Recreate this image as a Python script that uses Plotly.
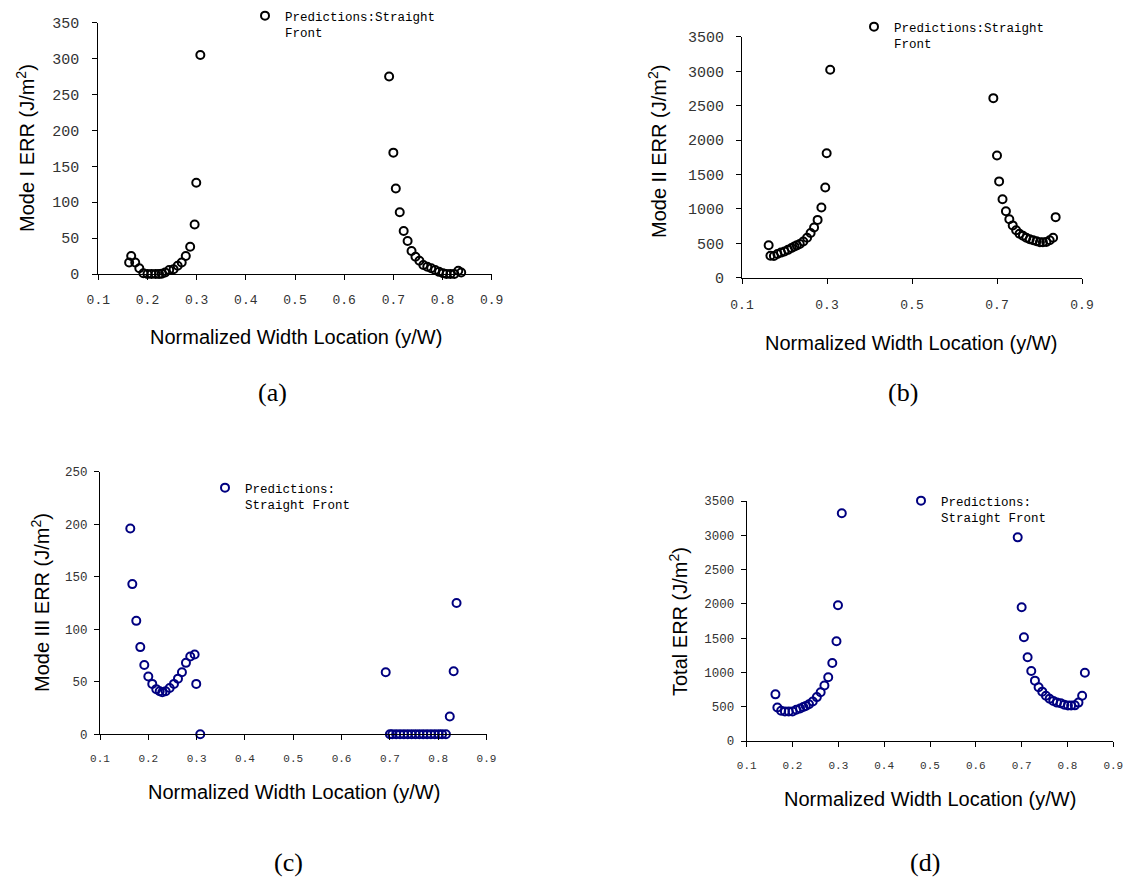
import plotly.graph_objects as go

# ---------------- data ----------------
x_left = [0.1627, 0.1669, 0.1751, 0.1834, 0.1917, 0.2000, 0.2082, 0.2165, 0.2235, 0.2290,
          0.2359, 0.2442, 0.2531, 0.2614, 0.2696, 0.2779, 0.2868, 0.2959, 0.2992, 0.3075]
x_right = [0.6914, 0.7000, 0.7050, 0.7130, 0.7210, 0.7290, 0.7370, 0.7450, 0.7530, 0.7610,
           0.7690, 0.7770, 0.7850, 0.7930, 0.8010, 0.8080, 0.8160, 0.8240, 0.8320, 0.8380]
x_all = x_left + x_right

mode1 = [16, 25, 16, 8, 1, 0, 0, 0, 0, 0.5,
         2, 5.5, 6.5, 11.5, 16, 25, 38, 69, 127, 305,
         275, 169, 119, 86, 60, 46, 32, 24, 18.5, 12.5,
         10, 8, 5.5, 3, 1, 0, 0, 0, 4.5, 2]
mode2 = [471, 320, 315, 344, 365, 380, 405, 432, 455, 470,
         490, 525, 580, 650, 730, 840, 1020, 1310, 1808, 3023,
         2610, 1775, 1400, 1140, 965, 850, 760, 690, 640, 610,
         580, 560, 545, 530, 515, 515, 520, 545, 580, 880]
mode3 = [196, 143, 108, 83, 66, 55, 48, 43, 41, 40,
         41, 44, 48, 53, 59, 68, 74, 76, 48, 0,
         59, 0, 0, 0, 0, 0, 0, 0, 0, 0,
         0, 0, 0, 0, 0, 0, 0, 17, 60, 125]
total = [680, 488, 440, 430, 430, 432, 455, 475, 495, 510,
         535, 575, 640, 710, 810, 930, 1137, 1454, 1979, 3321,
         2970, 1950, 1512, 1221, 1020, 880, 785, 720, 660, 615,
         585, 560, 552, 528, 518, 518, 520, 560, 660, 995]

series_name_ab = "Predictions:Straight<br>Front"
series_name_cd = "Predictions:<br>Straight Front"
y_titles = ["Mode I ERR (J/m<sup>2</sup>)", "Mode II ERR (J/m<sup>2</sup>)",
            "Mode III ERR (J/m<sup>2</sup>)", "Total ERR (J/m<sup>2</sup>)"]
x_title = "Normalized Width Location (y/W)"
panel_labels = ["(a)", "(b)", "(c)", "(d)"]

W, H = 1123, 878
def px(v):
    return v / W
def py(v):
    return 1 - v / H

BLACK = "#000000"
NAVY = "#000080"
MONO = "Liberation Mono"

fig = go.Figure()

panels = [
    dict(y=mode1, color=BLACK, name=series_name_ab, xdom=(98.3, 491.7), ydom=(274, 22.7),
         yrange=[0, 350], dy=50, dx=0.1, yfs=15, xfs=13, ystand=10, xstand=8,
         leg=(245, 1), xt=(295.5, 337), yt=(25, 148), pl=(272, 393)),
    dict(y=mode2, color=BLACK, name=series_name_ab, xdom=(742, 1082), ydom=(277.7, 36.9),
         yrange=[0, 3500], dy=500, dx=0.2, yfs=15, xfs=13, ystand=9, xstand=10,
         leg=(854, 12), xt=(911, 343), yt=(657, 152), pl=(903, 392)),
    dict(y=mode3, color=NAVY, name=series_name_cd, xdom=(100, 486.5), ydom=(734.3, 471.7),
         yrange=[0, 250], dy=50, dx=0.1, yfs=12.5, xfs=11, ystand=4, xstand=8,
         leg=(205, 473), xt=(293.7, 792), yt=(40, 603), pl=(288, 862)),
    dict(y=total, color=NAVY, name=series_name_cd, xdom=(746.7, 1113.3), ydom=(741, 501),
         yrange=[0, 3500], dy=500, dx=0.1, yfs=12.5, xfs=11, ystand=4, xstand=9,
         leg=(901, 486), xt=(930, 799), yt=(678, 622), pl=(925, 862)),
]

for i, p in enumerate(panels, start=1):
    sfx = "" if i == 1 else str(i)
    leg = "legend" if i == 1 else f"legend{i}"
    fig.add_trace(go.Scatter(
        x=x_all, y=p["y"], mode="markers", name=p["name"],
        xaxis="x" + sfx, yaxis="y" + sfx, legend=leg, cliponaxis=False,
        marker=dict(symbol="circle-open", size=8, color=p["color"],
                    line=dict(width=2, color=p["color"])),
        showlegend=True,
    ))
    axis_common = dict(showline=True, linecolor="#000000", linewidth=1, ticks="outside",
                       ticklen=5, tickcolor="#000000", showgrid=False, zeroline=False,
                       automargin=False, ticklabeloverflow="allow")
    fig.update_layout(**{
        "xaxis" + sfx: dict(axis_common, domain=[px(p["xdom"][0]), px(p["xdom"][1])],
                            range=[0.1, 0.9], tick0=0.1, dtick=p["dx"], tickformat=".1f",
                            anchor="y" + sfx, ticklabelstandoff=p["xstand"],
                            tickfont=dict(family=MONO, color="#333333", size=p["xfs"])),
        "yaxis" + sfx: dict(axis_common, domain=[py(p["ydom"][0]), py(p["ydom"][1])],
                            range=p["yrange"], tick0=0, dtick=p["dy"],
                            anchor="x" + sfx, ticklabelstandoff=p["ystand"],
                            tickfont=dict(family=MONO, color="#333333", size=p["yfs"])),
        leg: dict(x=px(p["leg"][0]), y=py(p["leg"][1]), xanchor="left", yanchor="top",
                  valign="top", bgcolor="rgba(0,0,0,0)", itemwidth=30,
                  font=dict(family=MONO, size=12.5, color="#000000")),
    })
    fig.add_annotation(x=px(p["xt"][0]), y=py(p["xt"][1]), xref="paper", yref="paper",
                       text=x_title, showarrow=False, xanchor="center", yanchor="middle",
                       font=dict(family="Liberation Sans", size=20, color="#000000"))
    fig.add_annotation(x=px(p["yt"][0]), y=py(p["yt"][1]), xref="paper", yref="paper",
                       text=y_titles[i - 1], showarrow=False, textangle=-90,
                       xanchor="center", yanchor="middle",
                       font=dict(family="Liberation Sans", size=20, color="#000000"))
    fig.add_annotation(x=px(p["pl"][0]), y=py(p["pl"][1]), xref="paper", yref="paper",
                       text=panel_labels[i - 1], showarrow=False, xanchor="center",
                       yanchor="middle",
                       font=dict(family="Liberation Serif", size=26, color="#000000"))

fig.update_layout(width=W, height=H,
                  margin=dict(l=0, r=0, t=0, b=0, pad=0, autoexpand=False),
                  paper_bgcolor="white", plot_bgcolor="white", showlegend=True)

fig.write_html("out.html",
               config={"displayModeBar": False},
               post_script="document.body.style.margin='0';"
                           "document.body.style.overflow='hidden';")
